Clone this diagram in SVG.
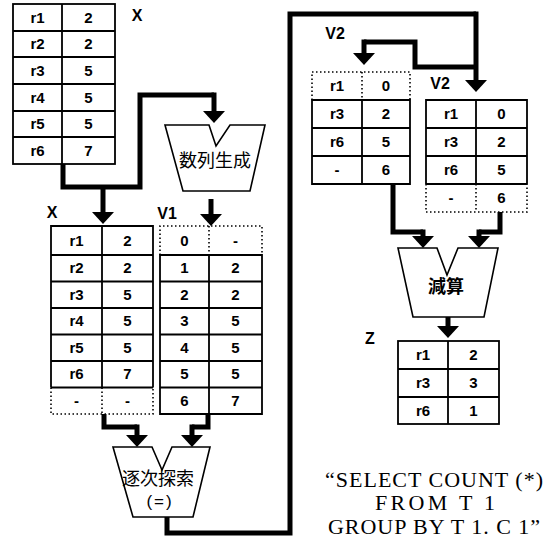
<svg xmlns="http://www.w3.org/2000/svg" width="553" height="542" viewBox="0 0 553 542">
<style>
.tb{fill:none;stroke:#000;stroke-width:1.8}
.ln{stroke:#000;stroke-width:1.8;fill:none}
.dt{stroke:#000;stroke-width:1.6;stroke-dasharray:1.5 2.5;fill:none}
.c{font-family:"Liberation Sans",Arial,sans-serif;font-weight:bold;font-size:15px;text-anchor:middle;fill:#000}
.lb{font-family:"Liberation Sans",Arial,sans-serif;font-weight:bold;font-size:16px;text-anchor:middle;fill:#000}
.fn{fill:#fff;stroke:#000;stroke-width:1.6}
.jp{font-family:"Noto Sans CJK JP","Noto Sans CJK SC",sans-serif;font-size:18px;text-anchor:middle;fill:#000}
.cn{fill:none;stroke:#000;stroke-width:5;stroke-linejoin:miter}
.cna{fill:none;stroke:#000;stroke-width:5;marker-end:url(#ah)}
.sql{font-family:"Liberation Serif","Times New Roman",serif;font-size:22px;text-anchor:middle;fill:#000}
</style>
<defs>
<marker id="ah" viewBox="0 0 12 22" refX="0" refY="11" markerWidth="12" markerHeight="22" orient="auto" markerUnits="userSpaceOnUse">
<path d="M0,0 L12,11 L0,22 z" fill="#000"/>
</marker>
</defs>
<rect width="553" height="542" fill="#fff"/>

<g id="connectors">
<path class="cn" d="M63,164 V187 H140 V95 H214"/>
<path class="cna" d="M214,92.5 V111"/>
<path class="cna" d="M103,187 V212"/>
<path class="cna" d="M211,199 V214"/>
<path class="cn" d="M104,414 V427 H137"/>
<path class="cna" d="M137,424.5 V435"/>
<path class="cn" d="M208,414 V427 H192"/>
<path class="cna" d="M192,424.5 V435"/>
<path class="cn" d="M167,517 V533 H290 V14 H476"/>
<path class="cna" d="M476,11.5 V80"/>
<path class="cn" d="M476,67 H415 V42 H364"/>
<path class="cna" d="M364,39.5 V53"/>
<path class="cn" d="M393,184 V232 H423"/>
<path class="cna" d="M423,229.5 V236"/>
<path class="cn" d="M500,212 V232 H479"/>
<path class="cna" d="M479,229.5 V236"/>
<path class="cna" d="M448,317 V326"/>
</g>

<g id="table-x-top">
<rect class="tb" x="13" y="4" width="102" height="160"/>
<path class="ln" d="M62,4 V164 M13,31 H115 M13,57 H115 M13,84 H115 M13,111 H115 M13,137 H115"/>
<text class="c" x="37.5" y="22.5">r1</text><text class="c" x="88.5" y="22.5">2</text>
<text class="c" x="37.5" y="49">r2</text><text class="c" x="88.5" y="49">2</text>
<text class="c" x="37.5" y="75.5">r3</text><text class="c" x="88.5" y="75.5">5</text>
<text class="c" x="37.5" y="102.5">r4</text><text class="c" x="88.5" y="102.5">5</text>
<text class="c" x="37.5" y="129">r5</text><text class="c" x="88.5" y="129">5</text>
<text class="c" x="37.5" y="155.5">r6</text><text class="c" x="88.5" y="155.5">7</text>
<text class="lb" x="137" y="21">X</text>
</g>

<g id="node-seq-gen">
<polygon class="fn" points="165,125 209,125 216,146 230,125 265,125 250,191 183,191"/>
<text class="jp" x="215" y="167">数列生成</text>
</g>

<g id="table-x-mid">
<path class="ln" d="M51,387.5 V226 H153 V387.5 M102,226 V387.5 M51,255 H153 M51,281.5 H153 M51,308 H153 M51,334.5 H153 M51,361 H153 M51,387.5 H153"/>
<path class="dt" d="M51,387.5 V414 H153 V387.5 M102,387.5 V414"/>
<text class="c" x="76.5" y="245.5">r1</text><text class="c" x="127.5" y="245.5">2</text>
<text class="c" x="76.5" y="273">r2</text><text class="c" x="127.5" y="273">2</text>
<text class="c" x="76.5" y="299.5">r3</text><text class="c" x="127.5" y="299.5">5</text>
<text class="c" x="76.5" y="326">r4</text><text class="c" x="127.5" y="326">5</text>
<text class="c" x="76.5" y="352.5">r5</text><text class="c" x="127.5" y="352.5">5</text>
<text class="c" x="76.5" y="379">r6</text><text class="c" x="127.5" y="379">7</text>
<text class="c" x="76.5" y="405.5">-</text><text class="c" x="127.5" y="405.5">-</text>
<text class="lb" x="52" y="218">X</text>
</g>

<g id="table-v1">
<path class="dt" d="M160,255 V226 H262 V255 M209,226 V255"/>
<path class="ln" d="M160,255 H262 V414 H160 Z M209,255 V414 M160,281.5 H262 M160,308 H262 M160,334.5 H262 M160,361 H262 M160,387.5 H262"/>
<text class="c" x="184.5" y="245.5">0</text><text class="c" x="235.5" y="245.5">-</text>
<text class="c" x="184.5" y="273">1</text><text class="c" x="235.5" y="273">2</text>
<text class="c" x="184.5" y="299.5">2</text><text class="c" x="235.5" y="299.5">2</text>
<text class="c" x="184.5" y="326">3</text><text class="c" x="235.5" y="326">5</text>
<text class="c" x="184.5" y="352.5">4</text><text class="c" x="235.5" y="352.5">5</text>
<text class="c" x="184.5" y="379">5</text><text class="c" x="235.5" y="379">5</text>
<text class="c" x="184.5" y="405.5">6</text><text class="c" x="235.5" y="405.5">7</text>
<text class="lb" x="167" y="219">V1</text>
</g>

<g id="node-seq-search">
<polygon class="fn" points="113,447 152,447 162,470 172,447 210,447 193,517 133,517"/>
<text class="jp" x="158" y="485" font-size="16.5">逐次探索</text>
<text x="160" y="507" font-family="Liberation Sans, Arial, sans-serif" font-size="17" text-anchor="middle" letter-spacing="2">(=)</text>
</g>

<g id="table-v2-left">
<path class="dt" d="M312,100 V72 H410 V100 M362,72 V100"/>
<path class="ln" d="M312,100 H410 V184 H312 Z M362,100 V184 M312,128 H410 M312,156 H410"/>
<text class="c" x="337" y="91">r1</text><text class="c" x="386" y="91">0</text>
<text class="c" x="337" y="119">r3</text><text class="c" x="386" y="119">2</text>
<text class="c" x="337" y="147">r6</text><text class="c" x="386" y="147">5</text>
<text class="c" x="337" y="175">-</text><text class="c" x="386" y="175">6</text>
<text class="lb" x="335" y="39">V2</text>
</g>

<g id="table-v2-right">
<path class="ln" d="M426,184 V100 H527 V184 M476,100 V184 M426,128 H527 M426,156 H527 M426,184 H527"/>
<path class="dt" d="M426,184 V212 H527 V184 M476,184 V212"/>
<text class="c" x="451" y="119">r1</text><text class="c" x="501.5" y="119">0</text>
<text class="c" x="451" y="147">r3</text><text class="c" x="501.5" y="147">2</text>
<text class="c" x="451" y="175">r6</text><text class="c" x="501.5" y="175">5</text>
<text class="c" x="451" y="203">-</text><text class="c" x="501.5" y="203">6</text>
<text class="lb" x="440" y="89">V2</text>
</g>

<g id="node-subtract">
<polygon class="fn" points="398,248 437,248 447,275 458,248 498,248 484,317 413,317"/>
<text class="jp" x="446" y="293" font-weight="bold">減算</text>
</g>

<g id="table-z">
<rect class="tb" x="398" y="341" width="101" height="83"/>
<path class="ln" d="M448,341 V424 M398,369 H499 M398,397 H499"/>
<text class="c" x="423" y="360">r1</text><text class="c" x="473.5" y="360">2</text>
<text class="c" x="423" y="388">r3</text><text class="c" x="473.5" y="388">3</text>
<text class="c" x="423" y="415.5">r6</text><text class="c" x="473.5" y="415.5">1</text>
<text class="lb" x="370" y="344">Z</text>
</g>

<g id="sql-text">
<text class="sql" x="434" y="487" textLength="218" lengthAdjust="spacing">“SELECT COUNT (*)</text>
<text class="sql" x="435" y="510" textLength="120" lengthAdjust="spacing">FROM T 1</text>
<text class="sql" x="434" y="534" textLength="212" lengthAdjust="spacing">GROUP BY T 1. C 1”</text>
</g>
</svg>
